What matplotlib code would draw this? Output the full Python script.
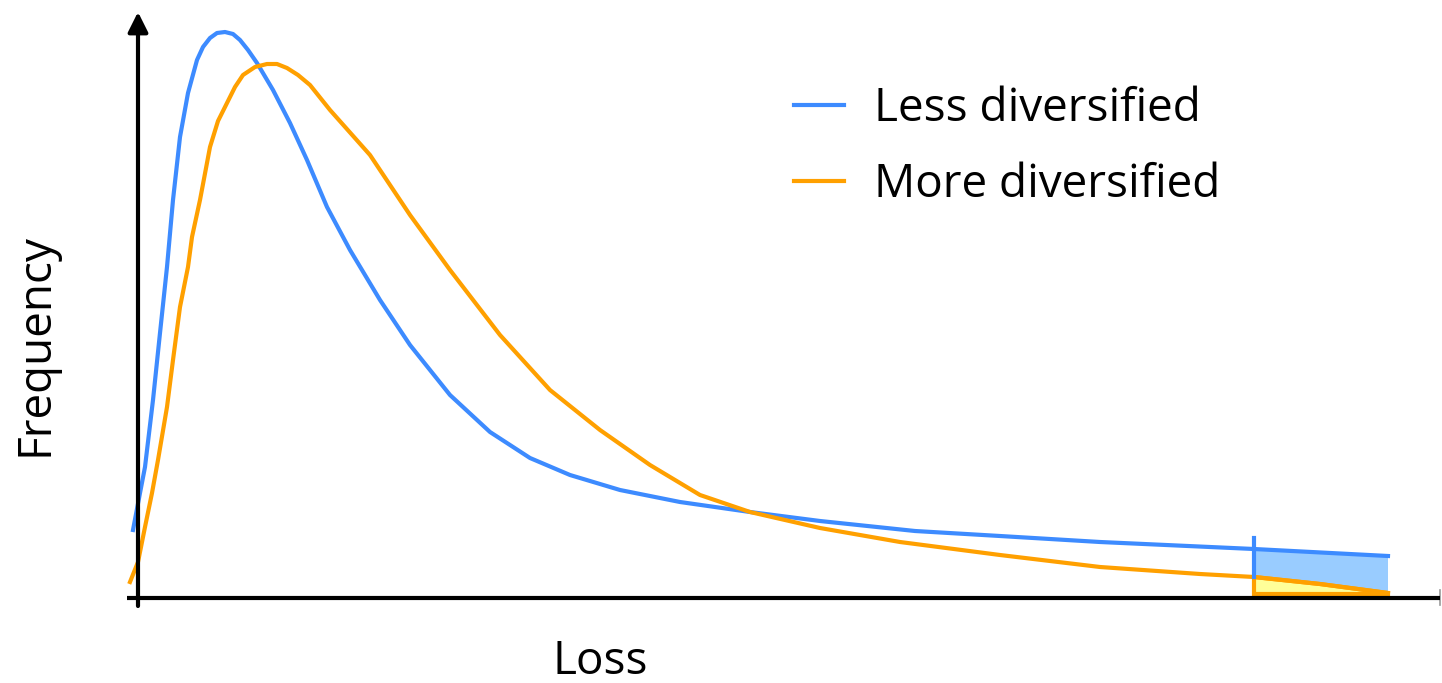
import matplotlib.pyplot as plt
import numpy as np

# loss (x) and frequency (y) values
less_loss = [-0.05, 0.02, 0.07, 0.15, 0.22, 0.29, 0.35, 0.42, 0.50, 0.59, 0.65, 0.72,
             0.79, 0.87, 0.95, 1.02, 1.10, 1.19, 1.35, 1.52, 1.69, 1.89, 2.12, 2.42,
             2.72, 3.12, 3.52, 3.92, 4.32, 4.82, 5.42, 6.12, 6.82, 7.77, 8.62, 9.62,
             11.16, 12.50]
less_freq = [0.68, 1.05, 1.31, 1.98, 2.65, 3.31, 3.98, 4.61, 5.05, 5.38, 5.51, 5.60,
             5.65, 5.66, 5.64, 5.58, 5.48, 5.35, 5.08, 4.75, 4.38, 3.91, 3.48, 2.98,
             2.53, 2.03, 1.66, 1.40, 1.23, 1.08, 0.96, 0.86, 0.77, 0.67, 0.62, 0.56,
             0.49, 0.42]

more_loss = [-0.08, 0.00, 0.07, 0.14, 0.20, 0.29, 0.35, 0.42, 0.50, 0.54, 0.62, 0.72,
             0.80, 0.89, 0.97, 1.05, 1.17, 1.29, 1.39, 1.49, 1.60, 1.72, 1.92, 2.32,
             2.72, 3.12, 3.62, 4.12, 4.62, 5.12, 5.62, 6.12, 6.82, 7.62, 8.62, 9.62,
             10.62, 11.16, 11.82, 12.50]
more_freq = [0.16, 0.36, 0.71, 1.05, 1.38, 1.91, 2.38, 2.91, 3.31, 3.61, 3.98, 4.51,
             4.77, 4.95, 5.11, 5.23, 5.31, 5.34, 5.34, 5.30, 5.23, 5.13, 4.88, 4.43,
             3.83, 3.28, 2.63, 2.08, 1.68, 1.33, 1.03, 0.86, 0.70, 0.56, 0.43, 0.31,
             0.24, 0.21, 0.14, 0.05]

var_loss = 11.16        # start of the shaded tail
labels = ["Less diversified", "More diversified"]

blue = "#3d8bff"
orange = "#ffa000"
font = "Open Sans"

fig = plt.figure(figsize=(14.42, 6.83), dpi=100)
ax = fig.add_axes([0, 0, 1, 1])
ax.set_xlim(-1.38, 13.04)
ax.set_ylim(-0.85, 5.98)
ax.axis("off")

less_loss = np.array(less_loss)
less_freq = np.array(less_freq)
more_loss = np.array(more_loss)
more_freq = np.array(more_freq)

# shaded tail areas
bl = less_loss >= var_loss
ml = more_loss >= var_loss
ax.fill(np.r_[less_loss[bl], more_loss[ml][::-1]],
        np.r_[less_freq[bl], more_freq[ml][::-1]],
        color="#99ccff", lw=0, zorder=1)
ax.fill(np.r_[more_loss[ml], more_loss[ml][::-1]],
        np.r_[more_freq[ml], np.full(ml.sum(), 0.04)],
        facecolor="#ffff99", edgecolor=orange, lw=3, zorder=2)

ax.plot(less_loss, less_freq, color=blue, lw=3, label=labels[0], zorder=3,
        solid_joinstyle="round")
ax.plot(more_loss, more_freq, color=orange, lw=3, label=labels[1], zorder=3,
        solid_joinstyle="round")
ax.plot([var_loss, var_loss], [more_freq[ml][0], 0.60], color=blue, lw=3, zorder=3)

# axes with arrow
ax.plot([-0.11, 13.02], [0, 0], color="black", lw=3, zorder=4, solid_capstyle="butt")
ax.annotate("", xy=(0, 5.86), xytext=(0, -0.08),
            arrowprops=dict(arrowstyle="-|>", lw=3, color="black", mutation_scale=30,
                            shrinkA=0, shrinkB=0), zorder=4)
ax.plot([13.02, 13.02], [-0.07, 0.08], color="#999999", lw=1.2)

ax.text(-1.03, 2.53, "Frequency", rotation=90, ha="center", va="center",
        fontsize=33, family=font)
ax.text(4.62, -0.64, "Loss", ha="center", va="center", fontsize=33, family=font)

ax.legend(loc="upper left", bbox_to_anchor=(0.522, 0.935), frameon=False,
          prop={"family": font, "size": 33}, handlelength=1.1,
          handletextpad=0.65, labelspacing=0.66)

fig.savefig("out.png", dpi=100)
